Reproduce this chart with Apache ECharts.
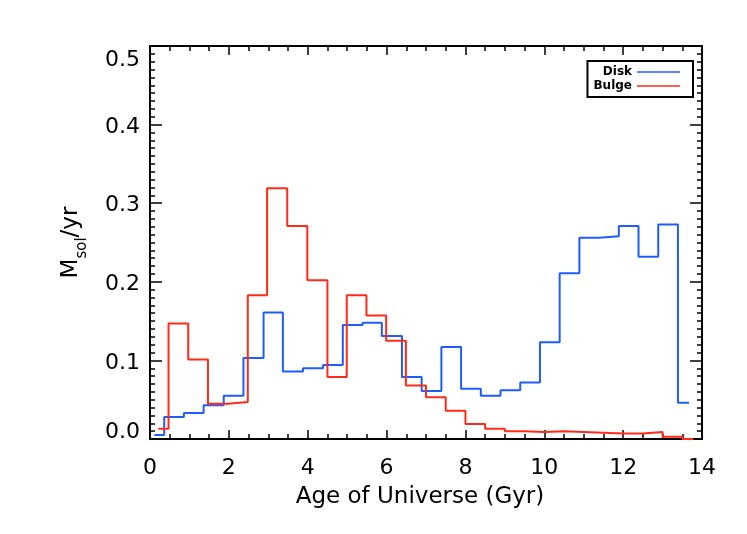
<!DOCTYPE html>
<html style="height: 100%">
<head>
  <meta charset="utf-8">
</head>
<body style="height: 100%; margin: 0; background: #fff">
  <div id="container" style="width: 747px; height: 534px"></div>
  <script src="https://cdn.jsdelivr.net/npm/echarts@6/dist/echarts.min.js"></script>
  <script>
// step histograms: left bin edges, values, and where the last bin ends
var diskEdges = [0.11, 0.36, 0.86, 1.36, 1.87, 2.37, 2.88, 3.37, 3.88, 4.39,
  4.89, 5.39, 5.88, 6.39, 6.89, 7.39, 7.89, 8.39, 8.89, 9.39,
  9.89, 10.39, 10.89, 11.39, 11.89, 12.39, 12.89, 13.39];
var diskValues = [0.005, 0.028, 0.033, 0.043, 0.055, 0.103, 0.161, 0.086, 0.090, 0.094,
  0.145, 0.148, 0.131, 0.079, 0.061, 0.117, 0.064, 0.055, 0.062, 0.072,
  0.123, 0.211, 0.256, 0.258, 0.271, 0.232, 0.273, 0.046];
var diskEnd = 13.67;

var bulgeEdges = [0.21, 0.47, 0.97, 1.47, 1.98, 2.48, 2.97, 3.48, 3.99, 4.50,
  4.99, 5.49, 5.99, 6.49, 7.00, 7.50, 8.00, 8.50, 9.00, 9.50,
  10.00, 10.50, 11.00, 11.50, 12.00, 12.50, 13.00, 13.50];
var bulgeValues = [0.013, 0.147, 0.101, 0.045, 0.047, 0.183, 0.319, 0.271, 0.202, 0.079,
  0.183, 0.157, 0.125, 0.068, 0.053, 0.036, 0.019, 0.013, 0.010, 0.009,
  0.010, 0.009, 0.008, 0.007, 0.007, 0.009, 0.003, 0.000];
var bulgeEnd = 13.78;

var xTicks = [0, 2, 4, 6, 8, 10, 12, 14];
var yTicks = ['0.0', '0.1', '0.2', '0.3', '0.4', '0.5'];

function stepData(edges, values, end) {
  var d = edges.map(function (x, i) { return [x, values[i]]; });
  d.push([end, values[values.length - 1]]);
  return d;
}

var FONT = 'DejaVu Sans';
var dom = document.getElementById('container');
var myChart = echarts.init(dom, null, { renderer: 'canvas' });

var axisCommon = {
  type: 'value',
  axisLine: { show: true, onZero: false, lineStyle: { color: '#000', width: 2 } },
  splitLine: { show: false },
  axisTick: { show: true, inside: true, lineStyle: { color: '#000', width: 1.5 } },
  minorTick: { show: true, lineStyle: { color: '#000', width: 1.5 } }
};

var option = {
  backgroundColor: '#fff',
  animation: false,
  grid: { left: 150, right: 45, top: 46, bottom: 95 },
  legend: {
    data: ['Disk', 'Bulge'],
    orient: 'vertical',
    align: 'right',
    icon: 'rect',
    right: 54,
    top: 61,
    padding: [4, 13, 4, 6],
    itemGap: 0,
    itemWidth: 43,
    itemHeight: 1.3,
    borderColor: '#000',
    borderWidth: 2,
    borderRadius: 0,
    textStyle: { fontFamily: FONT, fontSize: 12, fontWeight: 'bold', color: '#000', width: 37, align: 'right', lineHeight: 14 }
  },
  xAxis: [
    Object.assign({}, axisCommon, {
      min: 0, max: 14, interval: 2,
      name: 'Age of Universe (Gyr)',
      nameLocation: 'middle',
      nameGap: 47,
      nameTextStyle: { fontFamily: FONT, fontSize: 23, color: '#000', padding: [0, 12, 0, 0] },
      axisTick: Object.assign({}, axisCommon.axisTick, { length: 9 }),
      minorTick: Object.assign({}, axisCommon.minorTick, { splitNumber: 4, length: 5 }),
      axisLabel: {
        margin: 18, fontFamily: FONT, fontSize: 22, color: '#000',
        formatter: function (v) { return xTicks.indexOf(v) >= 0 ? String(v) : ''; }
      }
    }),
    Object.assign({}, axisCommon, {
      position: 'top', min: 0, max: 14, interval: 2,
      axisTick: Object.assign({}, axisCommon.axisTick, { length: 9 }),
      minorTick: Object.assign({}, axisCommon.minorTick, { splitNumber: 4, length: 5 }),
      axisLabel: { show: false }
    })
  ],
  yAxis: [
    Object.assign({}, axisCommon, {
      min: 0, max: 0.5, interval: 0.1,
      name: '{m|M}{s|sol}{m|/yr}',
      nameLocation: 'middle',
      nameGap: 60,
      nameTextStyle: {
        fontFamily: FONT, color: '#000',
        rich: {
          m: { fontFamily: FONT, fontSize: 23, color: '#000', lineHeight: 38, verticalAlign: 'middle' },
          s: { fontFamily: FONT, fontSize: 15, color: '#000', lineHeight: 15, verticalAlign: 'bottom' }
        }
      },
      axisTick: Object.assign({}, axisCommon.axisTick, { length: 12 }),
      minorTick: Object.assign({}, axisCommon.minorTick, { splitNumber: 10, length: 5 }),
      axisLabel: {
        margin: 10, fontFamily: FONT, fontSize: 22, color: '#000',
        formatter: function (v) {
          var i = Math.round(v * 10);
          var t = yTicks[i] || '';
          if (i === 0) return '{b|' + t + '}';
          if (i === yTicks.length - 1) return '{t|' + t + '}';
          return '{n|' + t + '}';
        },
        rich: {
          n: { fontFamily: FONT, fontSize: 22, color: '#000', padding: [5, 0, 0, 0] },
          t: { fontFamily: FONT, fontSize: 22, color: '#000', padding: [28, 0, 0, 0] },
          b: { fontFamily: FONT, fontSize: 22, color: '#000', padding: [0, 0, 13, 0] }
        }
      }
    }),
    Object.assign({}, axisCommon, {
      position: 'right', min: 0, max: 0.5, interval: 0.1,
      axisTick: Object.assign({}, axisCommon.axisTick, { length: 12 }),
      minorTick: Object.assign({}, axisCommon.minorTick, { splitNumber: 10, length: 5 }),
      axisLabel: { show: false }
    })
  ],
  series: [
    {
      name: 'Disk',
      type: 'line',
      step: 'end',
      showSymbol: false,
      symbol: 'none',
      color: '#1f5cff',
      lineStyle: { color: '#1f5cff', width: 2 },
      data: stepData(diskEdges, diskValues, diskEnd)
    },
    {
      name: 'Bulge',
      type: 'line',
      step: 'end',
      showSymbol: false,
      symbol: 'none',
      color: '#ff2a17',
      lineStyle: { color: '#ff2a17', width: 2 },
      data: stepData(bulgeEdges, bulgeValues, bulgeEnd)
    }
  ]
};

myChart.setOption(option);
window.addEventListener('resize', myChart.resize);
  </script>
</body>
</html>
